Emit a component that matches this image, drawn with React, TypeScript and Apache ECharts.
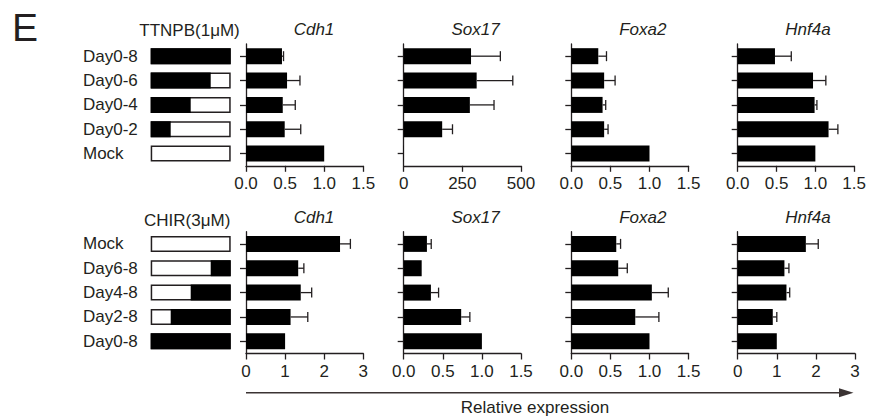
import React, { useEffect, useRef } from "react";
import * as echarts from "echarts";

// ---------- data ----------
const genes = ["Cdh1", "Sox17", "Foxa2", "Hnf4a"];
const categoriesTop = ["Day0-8", "Day0-6", "Day0-4", "Day0-2", "Mock"];
const categoriesBottom = ["Mock", "Day6-8", "Day4-8", "Day2-8", "Day0-8"];

// TTNPB schematic: treatment from day 0 until day X
const ttnpbEnd = [8, 6, 4, 2, 0];
// CHIR schematic: treatment from day X until day 8
const chirStart = [8, 6, 4, 2, 0];

const cdh1Top = [0.46, 0.525, 0.47, 0.495, 1.0];
const cdh1TopErr = [0.48, 0.69, 0.63, 0.7, null];
const sox17Top = [287, 311, 282, 164, 1];
const sox17TopErr = [412, 465, 385, 208, null];
const foxa2Top = [0.345, 0.42, 0.4, 0.42, 1.0];
const foxa2TopErr = [0.45, 0.56, 0.44, 0.47, null];
const hnf4aTop = [0.48, 0.97, 0.99, 1.17, 1.0];
const hnf4aTopErr = [0.69, 1.135, 1.02, 1.29, null];

const cdh1Bottom = [2.405, 1.335, 1.4, 1.14, 1.0];
const cdh1BottomErr = [2.67, 1.48, 1.68, 1.58, null];
const sox17Bottom = [0.297, 0.23, 0.348, 0.735, 1.0];
const sox17BottomErr = [0.352, null, 0.446, 0.846, null];
const foxa2Bottom = [0.575, 0.6, 1.03, 0.818, 1.0];
const foxa2BottomErr = [0.63, 0.716, 1.24, 1.12, null];
const hnf4aBottom = [1.743, 1.195, 1.247, 0.897, 1.0];
const hnf4aBottomErr = [2.06, 1.31, 1.33, 1.0, null];

const topMax = [1.5, 500, 1.5, 1.5];
const topInterval = [0.5, 250, 0.5, 0.5];
const topDecimals = [1, 0, 1, 1];
const bottomMax = [3, 1.5, 1.5, 3];
const bottomInterval = [1, 0.5, 0.5, 1];
const bottomDecimals = [0, 1, 1, 0];

const rowTitleTop = "TTNPB(1μM)";
const rowTitleBottom = "CHIR(3μM)";
const axisTitle = "Relative expression";
const panelLetter = "E";

// ---------- layout ----------
const FONT = "'Liberation Sans', Arial, Helvetica, sans-serif";
const INK = "#231f20";
const panelLeft = [246, 403.7, 571.3, 737.7];
const panelWidth = 117.3;
const rowTop = [44, 231.7];
const rowHeight = 121.8;
const titleX = [314, 475.5, 642.8, 808];
const titleY = [29.5, 217.2];

export default function App() {
  const ref = useRef<HTMLDivElement>(null);

  useEffect(() => {
    document.body.style.margin = "0";
    if (!ref.current) return;
    const chart = echarts.init(ref.current, null, { renderer: "svg" });

    const rows = [
      {
        cats: categoriesTop,
        vals: [cdh1Top, sox17Top, foxa2Top, hnf4aTop],
        errs: [cdh1TopErr, sox17TopErr, foxa2TopErr, hnf4aTopErr],
        max: topMax,
        interval: topInterval,
        dec: topDecimals,
      },
      {
        cats: categoriesBottom,
        vals: [cdh1Bottom, sox17Bottom, foxa2Bottom, hnf4aBottom],
        errs: [cdh1BottomErr, sox17BottomErr, foxa2BottomErr, hnf4aBottomErr],
        max: bottomMax,
        interval: bottomInterval,
        dec: bottomDecimals,
      },
    ];

    const grid: any[] = [];
    const xAxis: any[] = [];
    const yAxis: any[] = [];
    const series: any[] = [];
    const graphic: any[] = [];

    const errRender = (params: any, api: any) => {
      const y = api.value(1);
      const s = api.coord([api.value(0), y]);
      const e = api.coord([api.value(2), y]);
      const st = { stroke: INK, lineWidth: 1.3 };
      return {
        type: "group",
        children: [
          { type: "line", shape: { x1: s[0], y1: s[1], x2: e[0], y2: e[1] }, style: st },
          { type: "line", shape: { x1: e[0], y1: e[1] - 5, x2: e[0], y2: e[1] + 5 }, style: st },
        ],
      };
    };

    rows.forEach((row, r) => {
      genes.forEach((g, k) => {
        const idx = grid.length;
        grid.push({
          left: panelLeft[k],
          top: rowTop[r],
          width: panelWidth,
          height: rowHeight,
          containLabel: false,
        });
        const dec = row.dec[k];
        xAxis.push({
          type: "value",
          gridIndex: idx,
          min: 0,
          max: row.max[k],
          interval: row.interval[k],
          splitLine: { show: false },
          axisLine: { show: true, lineStyle: { color: INK, width: 1.3 } },
          axisTick: { show: true, length: 6, lineStyle: { color: INK, width: 1.3 } },
          axisLabel: {
            fontSize: 17,
            fontFamily: FONT,
            color: INK,
            margin: 9,
            formatter: (v: number) => v.toFixed(dec),
          },
        });
        yAxis.push({
          type: "category",
          gridIndex: idx,
          inverse: true,
          data: row.cats,
          axisLine: { show: true, lineStyle: { color: INK, width: 1.3 } },
          axisTick: { show: true, length: 6, alignWithLabel: true, lineStyle: { color: INK, width: 1.3 } },
          axisLabel: { show: false },
          splitLine: { show: false },
        });
        series.push({
          type: "bar",
          xAxisIndex: idx,
          yAxisIndex: idx,
          data: row.vals[k],
          barWidth: 16,
          itemStyle: { color: "#000" },
          silent: true,
        });
        const errData: any[] = [];
        row.vals[k].forEach((v, i) => {
          const e = row.errs[k][i];
          if (e !== null && e !== undefined) errData.push([v, i, e]);
        });
        series.push({
          type: "custom",
          coordinateSystem: "cartesian2d",
          xAxisIndex: idx,
          yAxisIndex: idx,
          data: errData,
          encode: { x: [0, 2], y: 1 },
          renderItem: errRender,
          silent: true,
          z: 3,
        });
        graphic.push({
          type: "text",
          x: titleX[k],
          y: titleY[r],
          style: {
            text: g,
            fontSize: 17,
            fontStyle: "italic",
            fontFamily: FONT,
            fill: INK,
            textAlign: "center",
            textVerticalAlign: "middle",
          },
        });
      });
    });

    // schematic grids
    const schemRows = [
      { cats: categoriesTop, offset: ttnpbEnd.map(() => 0), len: ttnpbEnd },
      { cats: categoriesBottom, offset: chirStart, len: chirStart.map((s) => 8 - s) },
    ];
    schemRows.forEach((sr, r) => {
      const idx = grid.length;
      grid.push({ left: 150.7, top: rowTop[r], width: 80, height: rowHeight });
      xAxis.push({ type: "value", gridIndex: idx, min: 0, max: 8, show: false });
      yAxis.push({
        type: "category",
        gridIndex: idx,
        inverse: true,
        data: sr.cats,
        axisLine: { show: false },
        axisTick: { show: false },
        axisLabel: {
          fontSize: 17,
          fontFamily: FONT,
          color: INK,
          align: "left",
          margin: 67.7,
        },
      });
      series.push({
        type: "bar",
        xAxisIndex: idx,
        yAxisIndex: idx,
        data: sr.cats.map(() => 8),
        barWidth: 16,
        barGap: "-100%",
        itemStyle: { color: "#fff", borderColor: INK, borderWidth: 1.5 },
        silent: true,
      });
      series.push({
        type: "bar",
        xAxisIndex: idx,
        yAxisIndex: idx,
        stack: "s" + r,
        data: sr.offset,
        barWidth: 16,
        barGap: "-100%",
        itemStyle: { color: "rgba(0,0,0,0)" },
        silent: true,
      });
      series.push({
        type: "bar",
        xAxisIndex: idx,
        yAxisIndex: idx,
        stack: "s" + r,
        data: sr.len,
        barWidth: 16,
        barGap: "-100%",
        itemStyle: { color: "#000" },
        silent: true,
      });
    });

    graphic.push(
      {
        type: "text",
        x: 12,
        y: 27.2,
        style: {
          text: panelLetter,
          fontSize: 39,
          fontFamily: FONT,
          fill: INK,
          textAlign: "left",
          textVerticalAlign: "middle",
        },
      },
      {
        type: "text",
        x: 139.3,
        y: 30.8,
        style: {
          text: rowTitleTop,
          fontSize: 17,
          fontFamily: FONT,
          fill: INK,
          textAlign: "left",
          textVerticalAlign: "middle",
        },
      },
      {
        type: "text",
        x: 144,
        y: 220,
        style: {
          text: rowTitleBottom,
          fontSize: 17,
          fontFamily: FONT,
          fill: INK,
          textAlign: "left",
          textVerticalAlign: "middle",
        },
      },
      {
        type: "line",
        shape: { x1: 246, y1: 392.7, x2: 842, y2: 392.7 },
        style: { stroke: "#3b3333", lineWidth: 1.6 },
      },
      {
        type: "polygon",
        shape: { points: [[839, 388.2], [853.5, 392.7], [839, 397.2]] },
        style: { fill: "#3b3333" },
      },
      {
        type: "text",
        x: 535,
        y: 407.5,
        style: {
          text: axisTitle,
          fontSize: 17,
          fontFamily: FONT,
          fill: INK,
          textAlign: "center",
          textVerticalAlign: "middle",
        },
      }
    );

    chart.setOption({
      animation: false,
      backgroundColor: "#fff",
      textStyle: { fontFamily: FONT },
      grid,
      xAxis,
      yAxis,
      series,
      graphic,
    });

    return () => chart.dispose();
  }, []);

  return <div ref={ref} style={{ width: 869, height: 418 }} />;
}
